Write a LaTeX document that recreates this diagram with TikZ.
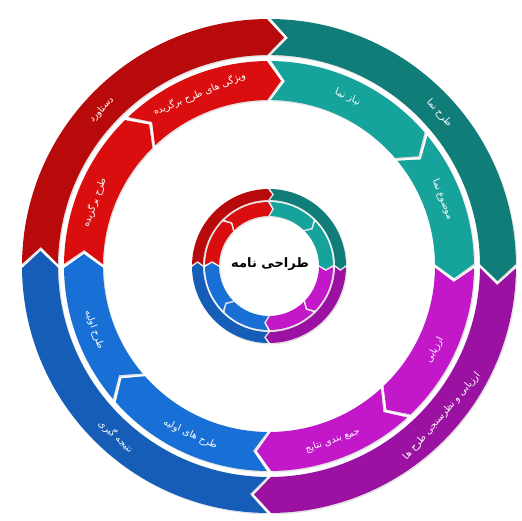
\documentclass[tikz,border=0pt]{standalone}
\usepackage{fontspec}
\TeXXeTstate=1
\newfontfamily\arabicfont[Script=Arabic]{DejaVu Sans}
\usetikzlibrary{shadows}
\definecolor{redO}{HTML}{B80A0A}
\definecolor{redI}{HTML}{DA0E0E}
\definecolor{tealO}{HTML}{107D78}
\definecolor{tealI}{HTML}{15A39B}
\definecolor{purpO}{HTML}{9B12A2}
\definecolor{purpI}{HTML}{C318C9}
\definecolor{blueO}{HTML}{155DB6}
\definecolor{blueI}{HTML}{1870D6}
\tikzset{
  band/.style={drop shadow={opacity=.22,shadow xshift=1.2pt,shadow yshift=-1.4pt}},
  lbl/.style={text=white,font=\fontsize{9.5}{11}\selectfont,inner sep=0pt},
  title/.style={text=black,font=\bfseries\fontsize{13}{15}\selectfont,inner sep=1pt}
}
% #1 start angle, #2 end angle (clockwise), #3 inner r, #4 outer r, #5 tip depth, #6 gap, #7 colour
\newcommand\arcseg[7]{%
  \pgfmathsetmacro\SgM{(#3+#4)/2}%
  \pgfmathsetmacro\SgG{#6/\SgM*57.2958}%
  \pgfmathsetmacro\SgD{#5/\SgM*57.2958}%
  \pgfmathsetmacro\SgA{#1-\SgG/2}%
  \pgfmathsetmacro\SgB{#2+\SgG/2}%
  \pgfmathsetmacro\SgT{\SgB-\SgD}%
  \pgfmathsetmacro\SgN{\SgA-\SgD}%
  \fill[#7,band] (\SgA:#4pt) arc[start angle=\SgA,end angle=\SgB,radius=#4pt]
    -- (\SgT:\SgM pt) -- (\SgB:#3pt)
    arc[start angle=\SgB,end angle=\SgA,radius=#3pt]
    -- (\SgN:\SgM pt) -- cycle;}
\begin{document}
\begin{tikzpicture}
\fill[white] (-269pt,-254pt) rectangle (253pt,266pt);
\useasboundingbox (-269pt,-254pt) rectangle (253pt,266pt);
% outer ring
\arcseg{180}{90}{211}{247}{17}{4}{redO}
\arcseg{90}{0}{211}{247}{17}{4}{tealO}
\arcseg{0}{-90}{211}{247}{17}{4}{purpO}
\arcseg{-90}{-180}{211}{247}{17}{4}{blueO}
% inner ring
\arcseg{180}{134}{166}{205}{14}{4}{redI}
\arcseg{134}{90}{166}{205}{14}{4}{redI}
\arcseg{90}{40}{166}{205}{14}{4}{tealI}
\arcseg{40}{0}{166}{205}{14}{4}{tealI}
\arcseg{0}{-47}{166}{205}{14}{4}{purpI}
\arcseg{-47}{-90}{166}{205}{14}{4}{purpI}
\arcseg{-90}{-139}{166}{205}{14}{4}{blueI}
\arcseg{-139}{-180}{166}{205}{14}{4}{blueI}
% small centre ring
\arcseg{180}{90}{66}{77}{4}{2}{redO}
\arcseg{90}{0}{66}{77}{4}{2}{tealO}
\arcseg{0}{-90}{66}{77}{4}{2}{purpO}
\arcseg{-90}{-180}{66}{77}{4}{2}{blueO}
\arcseg{180}{135}{50}{64}{4}{2}{redI}
\arcseg{135}{90}{50}{64}{4}{2}{redI}
\arcseg{90}{45}{50}{64}{4}{2}{tealI}
\arcseg{45}{0}{50}{64}{4}{2}{tealI}
\arcseg{0}{-45}{50}{64}{4}{2}{purpI}
\arcseg{-45}{-90}{50}{64}{4}{2}{purpI}
\arcseg{-90}{-135}{50}{64}{4}{2}{blueI}
\arcseg{-135}{-180}{50}{64}{4}{2}{blueI}
% labels
\node[lbl,rotate=47]  (l1)  at (137:229pt)  {\arabicfont\beginR دستاورد\endR};
\node[lbl,rotate=22]  (l2)  at (112:186pt)  {\arabicfont\beginR ویژگی های طرح برگزیده\endR};
\node[lbl,rotate=70]  (l3)  at (160:186pt)  {\arabicfont\beginR طرح برگزیده\endR};
\node[lbl,rotate=-48] (l4)  at (42:229pt)   {\arabicfont\beginR طرح نما\endR};
\node[lbl,rotate=-25] (l5)  at (65:186pt)   {\arabicfont\beginR نیاز نما\endR};
\node[lbl,rotate=-69] (l6)  at (21:186pt)   {\arabicfont\beginR موضوع نما\endR};
\node[lbl,rotate=49]  (l7)  at (-41:229pt)  {\arabicfont\beginR ارزیابی و نظرسنجی طرح ها\endR};
\node[lbl,rotate=63]  (l8)  at (-27:186pt)  {\arabicfont\beginR ارزیابی\endR};
\node[lbl,rotate=20]  (l9)  at (-70:186pt)  {\arabicfont\beginR جمع بندی نتایج\endR};
\node[lbl,rotate=-42] (l10) at (-132:229pt) {\arabicfont\beginR نتیجه گیری\endR};
\node[lbl,rotate=-25] (l11) at (-115:186pt) {\arabicfont\beginR طرح های اولیه\endR};
\node[lbl,rotate=-70] (l12) at (-160:186pt) {\arabicfont\beginR طرح اولیه\endR};
\node[title] (center) at (1pt,2pt) {\arabicfont\beginR طراحی نامه\endR};
\end{tikzpicture}
\end{document}
